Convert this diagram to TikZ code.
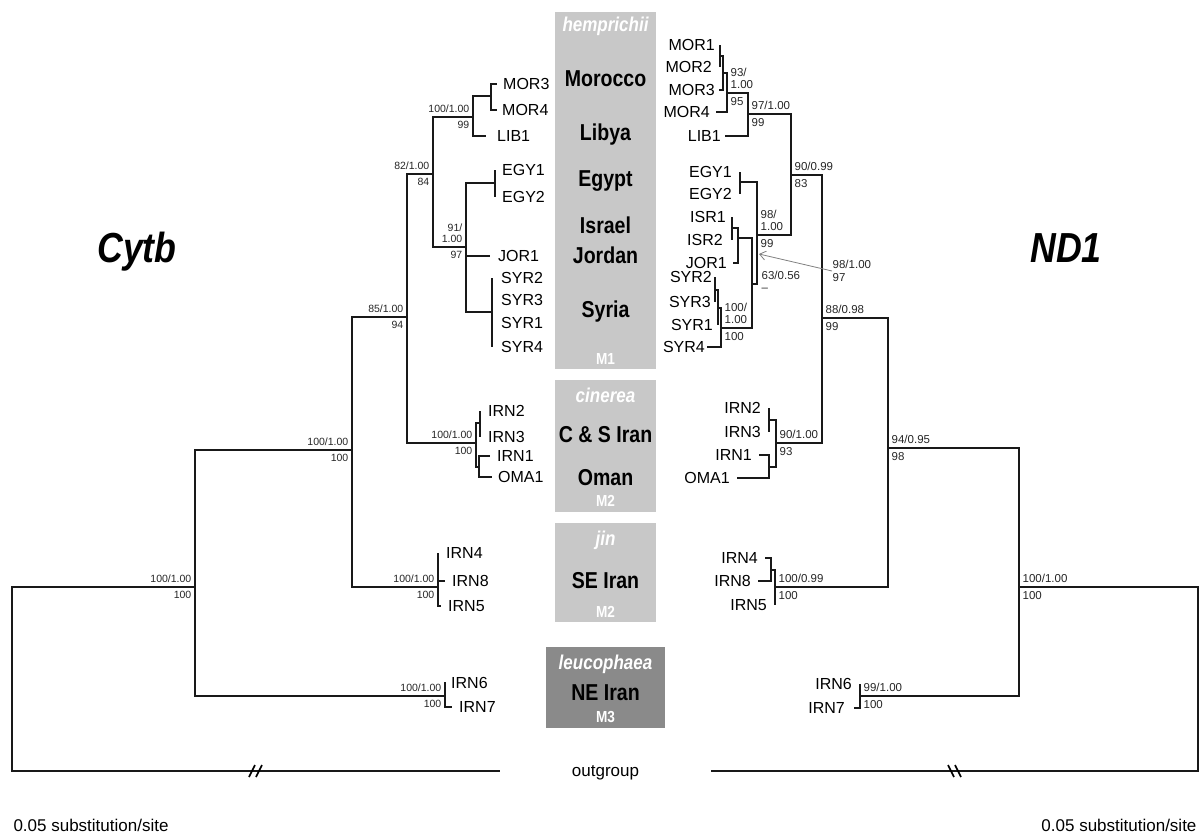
\documentclass[tikz,border=0pt]{standalone}
\usepackage{fontspec}
\setmainfont{Liberation Sans}
\usepackage{graphicx}
\usepackage{tikz}
\usetikzlibrary{positioning, arrows.meta}

\definecolor{boxlight}{RGB}{200,200,200}
\definecolor{boxdark}{RGB}{138,138,138}
\newcommand{\nar}[1]{\scalebox{0.85}[1]{#1}}

\tikzset{
  branch/.style={line width=2pt, black!90},
  tipL/.style={anchor=west, inner sep=0pt, font=\fontsize{16}{16}\selectfont},
  tipR/.style={anchor=east, inner sep=0pt, font=\fontsize{16}{16}\selectfont},
  suppL/.style={inner sep=0.5pt, align=right, font=\fontsize{10.5}{11.5}\selectfont, text=black!85},
  suppR/.style={inner sep=0.5pt, align=left, font=\fontsize{11.5}{12.5}\selectfont, text=black!85},
  region/.style={font=\bfseries\fontsize{23}{23}\selectfont, anchor=base},
  taxon/.style={font=\bfseries\itshape\fontsize{20}{20}\selectfont, anchor=base, text=white},
  morph/.style={font=\bfseries\fontsize{16}{16}\selectfont, anchor=base, text=white},
  gene/.style={font=\bfseries\itshape\fontsize{42}{42}\selectfont, anchor=base},
  plain/.style={font=\fontsize{17}{17}\selectfont, anchor=base},
  pointer/.style={-{Straight Barb[length=6pt, width=9pt]}, gray, line width=0.8pt},
}

% support values: left tree (right-aligned) and right tree (left-aligned)
\newcommand{\suppleft}[3]{%
  \node[suppL, anchor=south east] (#1-up) at ([xshift=-3pt, yshift=3.5pt]#1) {#2};
  \node[suppL, anchor=north east] (#1-dn) at ([xshift=-3pt, yshift=-3.5pt]#1) {#3};}
\newcommand{\suppright}[3]{%
  \node[suppR, anchor=south west] (#1-up) at ([xshift=3pt, yshift=3.5pt]#1) {#2};
  \node[suppR, anchor=north west] (#1-dn) at ([xshift=3pt, yshift=-3.5pt]#1) {#3};}

\begin{document}
\begin{tikzpicture}[x=1pt, y=-1pt]
    \useasboundingbox (0,0) rectangle (1203,837);

    % Grey boxes for the lineages
    \fill[boxlight] (555,12) rectangle (656,369);
    \fill[boxlight] (555,380) rectangle (656,512);
    \fill[boxlight] (555,523) rectangle (656,622);
    \fill[boxdark] (546,647) rectangle (665,728);

    \node[taxon] (hem) at (605.5,32) {\nar{hemprichii}};
    \node[region] (mor) at (605.5,87) {\nar{Morocco}};
    \node[region] (lib) at (605.5,141) {\nar{Libya}};
    \node[region] (egy) at (605.5,187) {\nar{Egypt}};
    \node[region] (isr) at (605.5,234) {\nar{Israel}};
    \node[region] (jor) at (605.5,264) {\nar{Jordan}};
    \node[region] (syr) at (605.5,317) {\nar{Syria}};
    \node[morph] (m1) at (605.5,364) {\nar{M1}};
    \node[taxon] (cin) at (605.5,402) {\nar{cinerea}};
    \node[region] (csi) at (605.5,442) {\nar{C \& S Iran}};
    \node[region] (oma) at (605.5,485) {\nar{Oman}};
    \node[morph] (m2a) at (605.5,506) {\nar{M2}};
    \node[taxon] (jin) at (605.5,545) {\nar{jin}};
    \node[region] (sei) at (605.5,588) {\nar{SE Iran}};
    \node[morph] (m2b) at (605.5,617) {\nar{M2}};
    \node[taxon] (leu) at (605.5,669) {\nar{leucophaea}};
    \node[region] (nei) at (605.5,700) {\nar{NE Iran}};
    \node[morph] (m3) at (605.5,722) {\nar{M3}};
    \node[plain] (out) at (605.5,776) {outgroup};

    % Gene names and scale text
    \node[gene] (cytb) at (137,263) {\nar{Cytb}};
    \node[gene] (nd1) at (1066,263) {\nar{ND1}};
    \node[plain, anchor=base west] (scaleL) at (10,831) {0.05 substitution/site};
    \node[plain, anchor=base east] (scaleR) at (1200,831) {0.05 substitution/site};

    % Cytb tree: internal nodes
    \foreach \n/\p in {L1/{12,680}, L2/{195,587}, L3/{352,450}, L4/{445,696},
        L5/{438,587}, L6/{407,317}, L7/{476,443}, L8/{433,174}, L9/{473,117},
        L10/{491,96}, L11/{466,247}, L12/{495,183}, L13/{492,312},
        L14/{480,423}, L15/{479,467}, Lout/{500,771}}
        \coordinate (\n) at (\p);

    % Cytb tree: tips
    \foreach \n/\p/\g/\t in {a-mor3/{497,84}/6pt/MOR3, a-mor4/{497,110}/5pt/MOR4,
        a-lib1/{486,136}/11pt/LIB1, a-egy1/{495,170}/7pt/EGY1, a-egy2/{495,197}/7pt/EGY2,
        a-jor1/{490,256}/8pt/JOR1, a-syr2/{492,278}/9pt/SYR2, a-syr3/{492,300}/9pt/SYR3,
        a-syr1/{492,323}/9pt/SYR1, a-syr4/{492,347}/9pt/SYR4, a-irn2/{480,411}/8pt/IRN2,
        a-irn3/{480,437}/8pt/IRN3, a-irn1/{490,456}/7pt/IRN1, a-oma1/{492,477}/6pt/OMA1,
        a-irn4/{438,553}/8pt/IRN4, a-irn8/{445,581}/7pt/IRN8, a-irn5/{441,606}/7pt/IRN5,
        a-irn6/{444,683}/7pt/IRN6, a-irn7/{452,707}/7pt/IRN7} {
        \coordinate (\n) at (\p);
        \node[tipL, right=\g of \n] (\n-t) {\t};
    }

    % Cytb tree: branches
    \foreach \a/\b in {L1/L2, L1/Lout, L2/L3, L2/L4, L3/L6, L3/L5, L6/L8, L6/L7,
        L8/L9, L8/L11, L9/L10, L9/a-lib1, L10/a-mor3, L10/a-mor4, L11/L12,
        L11/a-jor1, L11/L13, L12/a-egy1, L12/a-egy2, L13/a-syr2, L13/a-syr3,
        L13/a-syr1, L13/a-syr4, L7/L14, L7/L15, L14/a-irn2, L14/a-irn3,
        L15/a-irn1, L15/a-oma1, L5/a-irn4, L5/a-irn8, L5/a-irn5, L4/a-irn6, L4/a-irn7}
        \draw[branch] (\a) |- (\b);

    \suppleft{L2}{100/1.00}{100}
    \suppleft{L3}{100/1.00}{100}
    \suppleft{L4}{100/1.00}{100}
    \suppleft{L5}{100/1.00}{100}
    \suppleft{L6}{85/1.00}{94}
    \suppleft{L7}{100/1.00}{100}
    \suppleft{L8}{82/1.00}{84}
    \suppleft{L9}{100/1.00}{99}
    \suppleft{L11}{91/\\1.00}{97}

    % ND1 tree: internal nodes
    \foreach \n/\p in {R1/{1198,680}, R2/{1019,587}, R3/{888,448}, R4/{860,696},
        R5/{822,318}, R6/{775,587}, R7/{771,570}, R8/{791,175}, R9/{776,443},
        R10/{769,420}, R11/{769,467}, R12/{748,114}, R13/{757,235}, R14/{727,93},
        R15/{723,73}, R16/{720,56}, R17/{740,182}, R18/{752,284}, R19/{738,238},
        R20/{721,328}, R21/{732,228}, R22/{718,308}, R23/{715,290}, Rout/{711,771}}
        \coordinate (\n) at (\p);

    % ND1 tree: tips
    \foreach \n/\p/\g/\t in {b-mor1/{720,45}/5pt/MOR1, b-mor2/{720,67}/8pt/MOR2,
        b-mor3/{719,90}/4pt/MOR3, b-mor4/{716,112}/6pt/MOR4, b-lib1/{725,136}/4pt/LIB1,
        b-egy1/{740,172}/8pt/EGY1, b-egy2/{740,194}/8pt/EGY2, b-isr1/{732,217}/6pt/ISR1,
        b-isr2/{732,240}/9pt/ISR2, b-jor1/{733,263}/6pt/JOR1, b-syr2/{715,277}/3pt/SYR2,
        b-syr3/{715,302}/4pt/SYR3, b-syr1/{718,325}/5pt/SYR1, b-syr4/{707,347}/2pt/SYR4,
        b-irn2/{769,408}/8pt/IRN2, b-irn3/{769,432}/8pt/IRN3, b-irn1/{759,455}/7pt/IRN1,
        b-oma1/{737,478}/7pt/OMA1, b-irn4/{765,558}/7pt/IRN4, b-irn8/{758,581}/7pt/IRN8,
        b-irn5/{775,605}/8pt/IRN5, b-irn6/{860,684}/8pt/IRN6, b-irn7/{854,708}/9pt/IRN7} {
        \coordinate (\n) at (\p);
        \node[tipR, left=\g of \n] (\n-t) {\t};
    }

    % ND1 tree: branches
    \foreach \a/\b in {R1/R2, R1/Rout, R2/R3, R2/R4, R4/b-irn6, R4/b-irn7, R3/R5,
        R3/R6, R6/R7, R6/b-irn5, R7/b-irn4, R7/b-irn8, R5/R8, R5/R9, R9/R10, R9/R11,
        R10/b-irn2, R10/b-irn3, R11/b-irn1, R11/b-oma1, R8/R12, R8/R13, R12/R14,
        R12/b-lib1, R14/R15, R14/b-mor4, R15/R16, R15/b-mor3, R16/b-mor1, R16/b-mor2,
        R13/R17, R13/R18, R17/b-egy1, R17/b-egy2, R18/R19, R18/R20, R19/R21,
        R19/b-jor1, R21/b-isr1, R21/b-isr2, R20/R22, R20/b-syr4, R22/R23,
        R22/b-syr1, R23/b-syr2, R23/b-syr3}
        \draw[branch] (\a) |- (\b);

    \suppright{R2}{100/1.00}{100}
    \suppright{R4}{99/1.00}{100}
    \suppright{R3}{94/0.95}{98}
    \suppright{R6}{100/0.99}{100}
    \suppright{R5}{88/0.98}{99}
    \suppright{R9}{90/1.00}{93}
    \suppright{R8}{90/0.99}{83}
    \suppright{R12}{97/1.00}{99}
    \suppright{R14}{93/\\1.00}{95}
    \suppright{R13}{98/\\1.00}{99}
    \suppright{R20}{100/\\1.00}{100}
    \node[suppR, anchor=south west] (R18-up) at ([xshift=9pt, yshift=3.5pt]R18) {63/0.56};
    \node[suppR, anchor=north west] (R18-dn) at ([xshift=9pt, yshift=-3.5pt]R18) {--};

    % Arrow to the short internode
    \coordinate (ptr) at (759,254);
    \node[suppR, anchor=west] (arr-lab) at (832,271) {98/1.00\\97};
    \draw[pointer] (arr-lab.west) -- (ptr);

    % Breaks on the outgroup branches
    \draw[line width=1.6pt] (249,777) -- (255,765) (256,777) -- (262,765);
    \draw[line width=1.6pt] (948,765) -- (954,777) (955,765) -- (961,777);
\end{tikzpicture}
\end{document}
